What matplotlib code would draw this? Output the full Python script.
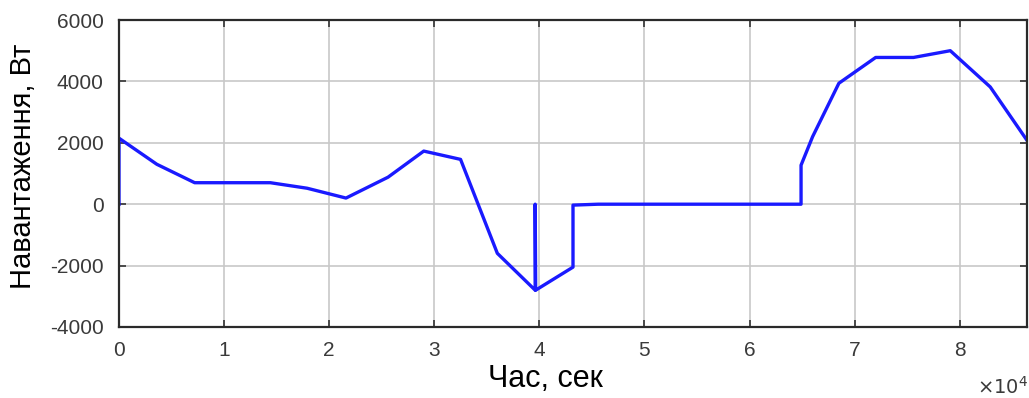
import matplotlib
matplotlib.use("Agg")
import matplotlib.pyplot as plt

# data: time (s), load (W)
time_s = [0, 0, 3600, 7200, 14400, 17900, 21600, 25600, 29000, 32500, 36000,
          39600, 39600, 39650, 43200, 43200, 45600, 64900, 64900, 66000,
          68500, 72000, 75600, 79100, 82900, 86400]
load_w = [0, 2150, 1300, 700, 700, 520, 200, 880, 1730, 1460, -1600,
          -2800, 0, -2800, -2050, -30, 0, 0, 1270, 2200,
          3940, 4780, 4780, 5000, 3820, 2080]
xticks = [0, 10000, 20000, 30000, 40000, 50000, 60000, 70000, 80000]
xtick_labels = ["0", "1", "2", "3", "4", "5", "6", "7", "8"]
yticks = [-4000, -2000, 0, 2000, 4000, 6000]
ytick_labels = ["-4000", "-2000", "0", "2000", "4000", "6000"]

plt.rcParams['font.family'] = ['Liberation Sans', 'DejaVu Sans']

fig = plt.figure(figsize=(10.29, 3.98), dpi=100)
ax = fig.add_axes([119/1029, 1-327/398, (1027-119)/1029, (327-20)/398])

ax.plot(time_s, load_w, color='#1a1aff', linewidth=2.4, solid_joinstyle='round')

ax.set_xlim(0, 86400)
ax.set_ylim(-4000, 6000)
ax.set_xticks(xticks)
ax.set_xticklabels(xtick_labels)
ax.set_yticks(yticks)
ax.set_yticklabels(ytick_labels)
ax.grid(True, color='#c8c8c8', linewidth=1.2)
ax.set_axisbelow(True)
ax.tick_params(direction='in', top=True, right=True, length=5, width=1.2,
               color='#333333', labelsize=15, labelcolor='#3a3a3a')
ax.tick_params(axis='x', pad=10)
ax.tick_params(axis='y', pad=11)
for s in ax.spines.values():
    s.set_color('#2a2a2a')
    s.set_linewidth(1.6)

ax.set_xlabel('Час, сек', fontsize=22, color='black')
ax.xaxis.set_label_coords((545-119)/908, -0.12)
ax.xaxis.label.set_va('top')
ax.set_ylabel('Навантаження, Вт', fontsize=21, color='black')
ax.yaxis.set_label_coords((37-119)/908, (327-166)/307)
fig.text(0.999, 0.0, r'$\times 10^{4}$', ha='right', va='bottom',
         fontsize=14, color='#3a3a3a')

fig.savefig('out.png', dpi=100)
